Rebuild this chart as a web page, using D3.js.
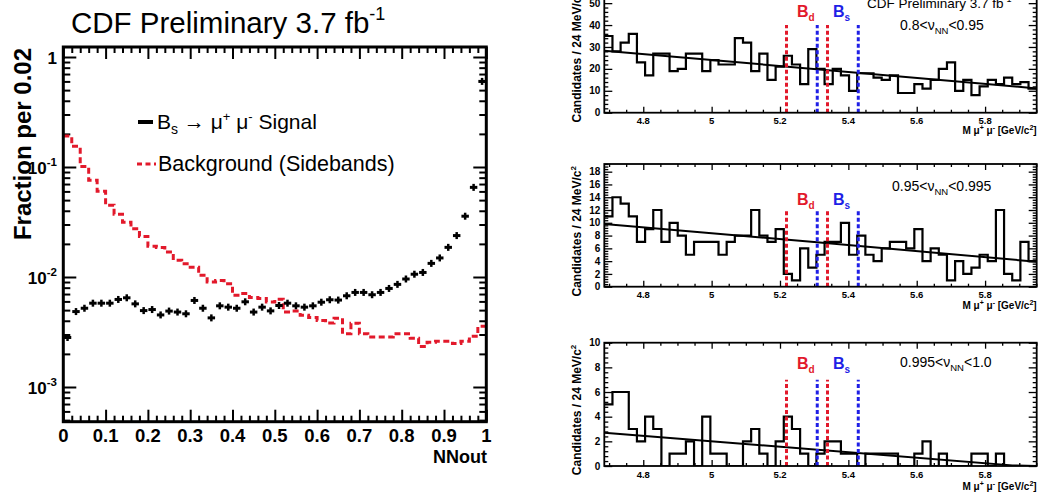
<!DOCTYPE html>
<html><head><meta charset="utf-8">
<script src="https://cdn.jsdelivr.net/npm/d3@7"></script>
<style>body{margin:0;background:#fff}svg{display:block}</style>
</head><body><svg id="c" width="1040" height="498"></svg>
<script>
// ================= DATA =================
// Left panel: NN output distributions (fraction per 0.02)
const nnTicks = [0,0.1,0.2,0.3,0.4,0.5,0.6,0.7,0.8,0.9,1];
const nnTickLabels = ["0","0.1","0.2","0.3","0.4","0.5","0.6","0.7","0.8","0.9","1"];
const nnBinWidth = 0.02;
const fracTicks = [1e-3,1e-2,1e-1,1];
const fracTickLabels = [["10","-3"],["10","-2"],["10","-1"],["1",""]];
const signalFrac = [
 0.00282,0.00485,0.0052,0.00578,0.00578,0.00578,0.00625,0.00647,0.0057,0.00495,
 0.00506,0.00452,0.0049,0.0048,0.00463,0.00612,0.0052,0.00425,0.00547,0.00532,
 0.0052,0.00595,0.0048,0.00532,0.00492,0.00551,0.00578,0.00547,0.00532,0.00547,
 0.0059,0.00621,0.00617,0.00675,0.00724,0.00724,0.0069,0.00724,0.00787,0.00857,
 0.00959,0.0106,0.011,0.0133,0.0149,0.0186,0.0238,0.0357,0.0653,0.60];
const bkgFrac = [
 0.191,0.154,0.101,0.0757,0.0601,0.0449,0.0371,0.0314,0.0275,0.0234,
 0.019,0.0185,0.0169,0.0142,0.0132,0.01225,0.01035,0.0090,0.0093,0.0087,
 0.00682,0.00707,0.0065,0.00637,0.00593,0.00627,0.00481,0.0049,0.00449,0.00428,
 0.00403,0.00382,0.00422,0.00305,0.0038,0.00305,0.00285,0.00285,0.00285,0.00305,
 0.00305,0.00277,0.00234,0.00255,0.0026,0.0026,0.00248,0.0026,0.00289,0.00357];

// Right panels: dimuon mass distributions (candidates / 24 MeV/c^2)
const massRange = [4.686, 5.951];
const massTicks = [4.8,5,5.2,5.4,5.6,5.8];
const massTickLabels = ["4.8","5","5.2","5.4","5.6","5.8"];
const countsLowNN = [35,28,32,36,23,17,27,27,19,20,27,27,19,24,22,22,34,32,19,27,15,21,26,22,13,29,20,13,20,17,10,18,18,16,15,17,9,9,13,11,15,20,23,10,15,8,12,15,13,16,13,14,11];
const countsMidNN = [11,14,13,11,7,9,12,7,10,8,5,7,7,7,5,7,8,8,12,8,7,9,2,1,6,3,5,7,7,10,5,8,5,4,6,7,7,6,9,4,6,5,1,4,2,3,5,4,12,2,1,7,4];
const countsHighNN = [5,6,6,3,2,4,3,0,1,1,2,0,4,1,1,0,0,2,3,1,0,2,4,3,1,0,1,2,2,1,1,0,1,1,1,1,0,0,1,2,0,1,0,0,0,1,1,0,1,0,0,0,0];
const fitLowNN = [[4.686,28.3],[5.951,11.1]];
const fitMidNN = [[4.686,9.8],[5.3,7.0],[5.951,3.9]];
const fitHighNN = [[4.686,2.7],[5.88,0.05],[5.951,0.0]];
const yTicksLowNN = [0,10,20,30,40,50];
const yTicksMidNN = [0,2,4,6,8,10,12,14,16,18];
const yTicksHighNN = [0,2,4,6,8,10];
const yMaxes = [56, 19.2, 10];
const windowBd = [5.219, 5.339];
const windowBs = [5.309, 5.429];
const windowLineTop = [40, 12, 7];
const nnRangeLabels = [["0.8<ν","NN","<0.95"],["0.95<ν","NN","<0.995"],["0.995<ν","NN","<1.0"]];

// ================= DRAWING =================
const FONT = '"Liberation Sans", Arial, Helvetica, sans-serif';
const RED = "#e2192b", BLUE = "#1f1fe6";
const svg = d3.select("#c");

function rich(parent, x, y, parts, base) {
  const t = parent.append("text").attr("x", x).attr("y", y)
    .attr("font-family", FONT).attr("font-size", base.size)
    .attr("font-weight", base.weight || "normal").attr("fill", base.fill || "#000")
    .attr("text-anchor", base.anchor || "start");
  if (base.transform) t.attr("transform", base.transform);
  let prev = 0;
  parts.forEach(p => {
    const r = p.rise || 0;
    t.append("tspan").attr("dy", prev - r).attr("font-size", p.size || base.size).text(p.t);
    prev = r;
  });
  return t;
}
function styleAxis(g, w) {
  g.select(".domain").remove();
  g.selectAll("line").attr("stroke", "#000").attr("stroke-width", w);
}

// ---------- LEFT PANEL ----------
const LX0 = 63.3, LX1 = 486.3, LT = 47, LB = 421.7;
const nnX = d3.scaleLinear().domain([0, 1]).range([LX0, LX1]);
const yTmp = d3.scaleLog().domain([1e-3, 1]).range([387, 57]);
const fracY = d3.scaleLog().domain([yTmp.invert(LB), yTmp.invert(LT)]).range([LB, LT]);

const left = svg.append("g");
const nnMinor = d3.range(0, 51).map(i => i * nnBinWidth).filter((d, i) => i % 5 !== 0);
const logMinor = [];
[1e-4, 1e-3, 1e-2, 1e-1].forEach(dec => { for (let m = 2; m <= 9; m++) logMinor.push(m * dec); });
const logMinorIn = logMinor.filter(v => v >= fracY.domain()[0] && v <= fracY.domain()[1]);

[[d3.axisBottom, LB], [d3.axisTop, LT]].forEach(([ax, y]) => {
  styleAxis(left.append("g").attr("transform", `translate(0,${y})`)
    .call(ax(nnX).tickValues(nnTicks).tickSize(-12).tickFormat("")), 2);
  styleAxis(left.append("g").attr("transform", `translate(0,${y})`)
    .call(ax(nnX).tickValues(nnMinor).tickSize(-6).tickFormat("")), 2);
});
[[d3.axisLeft, LX0], [d3.axisRight, LX1]].forEach(([ax, x]) => {
  styleAxis(left.append("g").attr("transform", `translate(${x},0)`)
    .call(ax(fracY).tickValues(fracTicks).tickSize(-13).tickFormat("")), 2);
  styleAxis(left.append("g").attr("transform", `translate(${x},0)`)
    .call(ax(fracY).tickValues(logMinorIn).tickSize(-7).tickFormat("")), 2);
});
// x tick labels
nnTicks.forEach((t, i) => {
  left.append("text").attr("x", nnX(t)).attr("y", LB + 20)
    .attr("text-anchor", "middle").attr("font-family", FONT)
    .attr("font-weight", "bold").attr("font-size", 18.5).text(nnTickLabels[i]);
});
// y tick labels
fracTicks.forEach((t, i) => {
  const lab = fracTickLabels[i];
  const parts = lab[1] ? [{t: lab[0]}, {t: lab[1], size: 11.5, rise: 8}] : [{t: lab[0]}];
  rich(left, 57, fracY(t) + 6.5, parts, {size: 17, weight: "bold", anchor: "end"});
});
// axis titles
left.append("text").attr("x", 487).attr("y", 462.5).attr("text-anchor", "end")
  .attr("font-family", FONT).attr("font-weight", "bold").attr("font-size", 18).text("NNout");
left.append("text").attr("transform", "translate(31,48) rotate(-90)")
  .attr("text-anchor", "end").attr("font-family", FONT).attr("font-weight", "bold")
  .attr("font-size", 24).text("Fraction per 0.02");
// title
rich(left, 71, 33, [{t: "CDF Preliminary 3.7 fb"}, {t: "-1", size: 18, rise: 13}], {size: 29.5});

// background histogram (red dashed)
const bkgPts = bkgFrac.map((v, i) => [i * nnBinWidth, v]);
bkgPts.push([1, bkgFrac[bkgFrac.length - 1]]);
left.append("path")
  .attr("d", d3.line().x(d => nnX(d[0])).y(d => fracY(d[1])).curve(d3.curveStepAfter)(bkgPts))
  .attr("fill", "none").attr("stroke", RED).attr("stroke-width", 3).attr("stroke-dasharray", "6,3.5");

// signal points with error bars
const sigG = left.append("g");
signalFrac.forEach((v, i) => {
  const x0 = nnX(i * nnBinWidth), x1 = nnX((i + 1) * nnBinWidth), xc = (x0 + x1) / 2, y = fracY(v);
  sigG.append("line").attr("x1", x0 + 0.5).attr("x2", x1 - 0.5).attr("y1", y).attr("y2", y)
    .attr("stroke", "#000").attr("stroke-width", 3);
  sigG.append("line").attr("x1", xc).attr("x2", xc).attr("y1", y - 3.5).attr("y2", y + 3.5)
    .attr("stroke", "#000").attr("stroke-width", 2.5);
});

// frame
left.append("rect").attr("x", LX0).attr("y", LT).attr("width", LX1 - LX0).attr("height", LB - LT)
  .attr("fill", "none").attr("stroke", "#000").attr("stroke-width", 3);

// legend
left.append("line").attr("x1", 138).attr("x2", 153).attr("y1", 122).attr("y2", 122)
  .attr("stroke", "#000").attr("stroke-width", 4);
rich(left, 157, 129, [
  {t: "B"}, {t: "s", size: 14, rise: -5}, {t: " → μ"}, {t: "+", size: 13, rise: 8},
  {t: " μ"}, {t: "-", size: 13, rise: 8}, {t: " Signal"}
], {size: 21});
left.append("line").attr("x1", 137).attr("x2", 156).attr("y1", 164).attr("y2", 164)
  .attr("stroke", RED).attr("stroke-width", 3).attr("stroke-dasharray", "5,3.5");
left.append("text").attr("x", 158).attr("y", 171).attr("font-family", FONT)
  .attr("font-size", 21.5).text("Background (Sidebands)");

// ---------- RIGHT PANELS ----------
const RX0 = 604.3, RX1 = 1036.7;
const massX = d3.scaleLinear().domain(massRange).range([RX0, RX1]);
const nMassBins = countsLowNN.length;
const massBinW = (massRange[1] - massRange[0]) / nMassBins;
const massMinor = d3.range(4.70, 5.951, 0.05).filter(v => !massTicks.some(t => Math.abs(t - v) < 1e-6));

const panelGeom = [
  {top: -10, bottom: 112.7, yMinorStep: 2, bBase: 16.7, rlX: 900, rlY: 30, titleY: 134, xlabY: 123.5},
  {top: 164, bottom: 286.7, yMinorStep: 0.4, bBase: 205, rlX: 892, rlY: 191, titleY: 308.5, xlabY: 298},
  {top: 342.7, bottom: 466, yMinorStep: 0.4, bBase: 369, rlX: 900, rlY: 366.7, titleY: 489.5, xlabY: 477.5}
];
const panelCounts = [countsLowNN, countsMidNN, countsHighNN];
const panelFits = [fitLowNN, fitMidNN, fitHighNN];
const panelYTicks = [yTicksLowNN, yTicksMidNN, yTicksHighNN];

panelGeom.forEach((pg, pi) => {
  const g = svg.append("g");
  const y = d3.scaleLinear().domain([0, yMaxes[pi]]).range([pg.bottom, pg.top]);
  const clipId = "clip" + pi;
  g.append("clipPath").attr("id", clipId).append("rect")
    .attr("x", RX0).attr("y", pg.top).attr("width", RX1 - RX0).attr("height", pg.bottom - pg.top);
  const yMinor = d3.range(0, yMaxes[pi] + 1e-9, pg.yMinorStep)
    .filter(v => !panelYTicks[pi].some(t => Math.abs(t - v) < 1e-6));

  [[d3.axisBottom, pg.bottom], [d3.axisTop, pg.top]].forEach(([ax, yy]) => {
    styleAxis(g.append("g").attr("transform", `translate(0,${yy})`)
      .call(ax(massX).tickValues(massTicks).tickSize(-6).tickFormat("")), 1.3);
    styleAxis(g.append("g").attr("transform", `translate(0,${yy})`)
      .call(ax(massX).tickValues(massMinor).tickSize(-3).tickFormat("")), 1.3);
  });
  [[d3.axisLeft, RX0], [d3.axisRight, RX1]].forEach(([ax, xx]) => {
    styleAxis(g.append("g").attr("transform", `translate(${xx},0)`)
      .call(ax(y).tickValues(panelYTicks[pi]).tickSize(-8).tickFormat("")), 1.3);
    styleAxis(g.append("g").attr("transform", `translate(${xx},0)`)
      .call(ax(y).tickValues(yMinor).tickSize(-4).tickFormat("")), 1.3);
  });
  massTicks.forEach((t, i) => {
    g.append("text").attr("x", massX(t)).attr("y", pg.xlabY).attr("text-anchor", "middle")
      .attr("font-family", FONT).attr("font-weight", "bold").attr("font-size", 9.5).text(massTickLabels[i]);
  });
  panelYTicks[pi].forEach(t => {
    g.append("text").attr("x", RX0 - 4).attr("y", y(t) + 3.6).attr("text-anchor", "end")
      .attr("font-family", FONT).attr("font-weight", "bold").attr("font-size", 10).text(t);
  });
  rich(g, RX1, pg.titleY, [
    {t: "M μ"}, {t: "+", size: 7, rise: 4}, {t: " μ"}, {t: "-", size: 7, rise: 4},
    {t: " [GeV/c"}, {t: "2", size: 7, rise: 4}, {t: "]"}
  ], {size: 10, weight: "bold", anchor: "end"});
  rich(g, 0, 0, [{t: "Candidates / 24 MeV/c"}, {t: "2", size: 8, rise: 5}],
    {size: 12, weight: "bold", anchor: "end", transform: `translate(581,${pg.top + 2}) rotate(-90)`});

  const inner = g.append("g").attr("clip-path", `url(#${clipId})`);
  const counts = panelCounts[pi];
  const pts = counts.map((c, i) => [massRange[0] + i * massBinW, c]);
  pts.push([massRange[1], counts[counts.length - 1]]);
  inner.append("path")
    .attr("d", d3.line().x(d => massX(d[0])).y(d => y(d[1])).curve(d3.curveStepAfter)(pts))
    .attr("fill", "none").attr("stroke", "#000").attr("stroke-width", 2.2);
  inner.append("path")
    .attr("d", d3.line().x(d => massX(d[0])).y(d => y(d[1]))(panelFits[pi]))
    .attr("fill", "none").attr("stroke", "#000").attr("stroke-width", 2);
  [[windowBd, RED], [windowBs, BLUE]].forEach(([w, col]) => {
    w.forEach(m => {
      inner.append("line").attr("x1", massX(m)).attr("x2", massX(m))
        .attr("y1", y(0)).attr("y2", y(windowLineTop[pi]))
        .attr("stroke", col).attr("stroke-width", 3).attr("stroke-dasharray", "4,2.5");
    });
  });
  g.append("rect").attr("x", RX0).attr("y", pg.top).attr("width", RX1 - RX0).attr("height", pg.bottom - pg.top)
    .attr("fill", "none").attr("stroke", "#000").attr("stroke-width", 1.8);
  rich(g, 797, pg.bBase, [{t: "B"}, {t: "d", size: 10, rise: -4}], {size: 16, weight: "bold", fill: RED});
  rich(g, 833, pg.bBase, [{t: "B"}, {t: "s", size: 10, rise: -4}], {size: 16, weight: "bold", fill: BLUE});
  const rl = nnRangeLabels[pi];
  rich(g, pg.rlX, pg.rlY, [{t: rl[0]}, {t: rl[1], size: 9.5, rise: -4}, {t: rl[2]}], {size: 14});
});
rich(svg, 867, 7.5, [{t: "CDF Preliminary 3.7 fb"}, {t: "-1", size: 9, rise: 6}], {size: 13.5});
</script></body></html>
